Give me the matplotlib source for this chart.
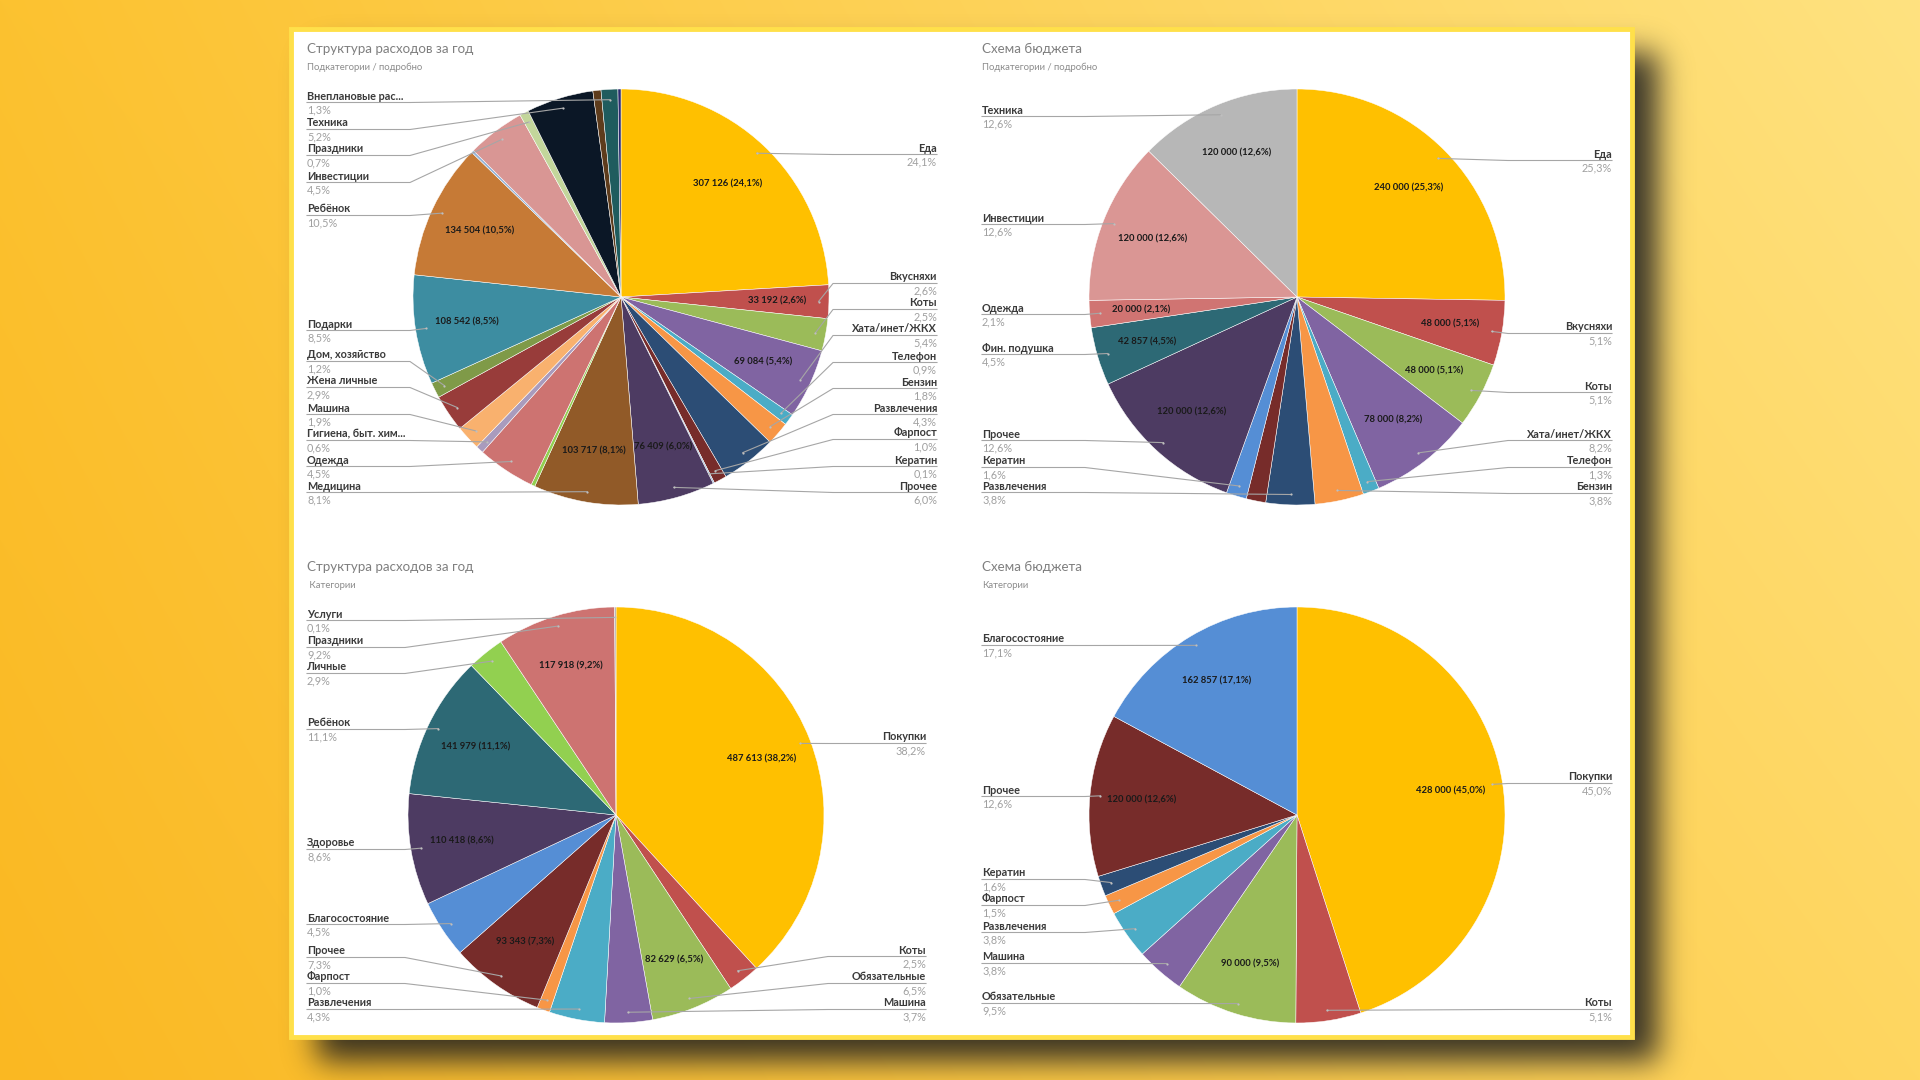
import math
import numpy as np
import matplotlib.pyplot as plt
from matplotlib.patches import Rectangle

plt.rcParams['font.family'] = ['Lato', 'DejaVu Sans']

W, H = 1920, 1080

# ---- data -------------------------------------------------------------
# top-left: Структура расходов за год / подкатегории
tl_labels = ['Еда', 'Вкусняхи', 'Коты', 'Хата/инет/ЖКХ', 'Телефон', 'Бензин',
             'Развлечения', 'Фарпост', 'Кератин', 'Прочее', 'Медицина', '',
             'Одежда', 'Гигиена, быт. хим...', 'Машина', 'Жена личные',
             'Дом, хозяйство', 'Подарки', 'Ребёнок', ' ', 'Инвестиции',
             'Праздники', 'Техника', '  ', 'Внеплановые рас...', '   ']
tl_values = [307126, 33192, 32000, 69084, 11500, 23000, 54900, 12800, 1300,
             76409, 103717, 3800, 57400, 7700, 24300, 37000, 15300, 108542,
             134504, 2500, 57400, 8900, 66400, 8000, 16600, 3000]
tl_colors = ['#FFC000', '#C0504D', '#9BBB59', '#8064A2', '#4BACC6', '#F79646',
             '#2C4D75', '#772C2A', '#95B3D7', '#4D3B62', '#915A28', '#92D050',
             '#CD7371', '#A99BBD', '#F9B16E', '#983C3A', '#7F9A48', '#3D8DA1',
             '#C67A36', '#95B3D7', '#D99694', '#C3D69B', '#0B1726', '#5E3C1C',
             '#1F5C5E', '#2A2A6E']
tl_inner = ['Еда', 'Вкусняхи', 'Хата/инет/ЖКХ', 'Прочее', 'Медицина',
            'Подарки', 'Ребёнок']

# top-right: Схема бюджета / подкатегории
tr_labels = ['Еда', 'Вкусняхи', 'Коты', 'Хата/инет/ЖКХ', 'Телефон', 'Бензин',
             'Развлечения', 'Фарпост', 'Кератин', 'Прочее', 'Фин. подушка',
             'Одежда', 'Инвестиции', 'Техника']
tr_values = [240000, 48000, 48000, 78000, 12000, 36000, 36000, 14400, 15000,
             120000, 42857, 20000, 120000, 120000]
tr_colors = ['#FFC000', '#C0504D', '#9BBB59', '#8064A2', '#4BACC6', '#F79646',
             '#2C4D75', '#772C2A', '#558ED5', '#4D3B62', '#2D6975', '#D07472',
             '#DA9694', '#B7B7B7']
tr_inner = ['Еда', 'Вкусняхи', 'Коты', 'Хата/инет/ЖКХ', 'Прочее',
            'Фин. подушка', 'Одежда', 'Инвестиции', 'Техника']

# bottom-left: Структура расходов за год / категории
bl_labels = ['Покупки', 'Коты', 'Обязательные', 'Машина', 'Развлечения',
             'Фарпост', 'Прочее', 'Благосостояние', 'Здоровье', 'Ребёнок',
             'Личные', 'Праздники', 'Услуги']
bl_values = [487613, 32000, 82629, 47300, 54900, 12800, 93343, 57400, 110418,
             141979, 37000, 117918, 1300]
bl_colors = ['#FFC000', '#C0504D', '#9BBB59', '#8064A2', '#4BACC6', '#F79646',
             '#772C2A', '#558ED5', '#4D3B62', '#2D6975', '#92D050', '#CD7371',
             '#A5A5A5']
bl_inner = ['Покупки', 'Обязательные', 'Прочее', 'Здоровье', 'Ребёнок',
            'Праздники']

# bottom-right: Схема бюджета / категории
br_labels = ['Покупки', 'Коты', 'Обязательные', 'Машина', 'Развлечения',
             'Фарпост', 'Кератин', 'Прочее', 'Благосостояние']
br_values = [428000, 48000, 90000, 36000, 36000, 14400, 15000, 120000, 162857]
br_colors = ['#FFC000', '#C0504D', '#9BBB59', '#8064A2', '#4BACC6', '#F79646',
             '#2C4D75', '#772C2A', '#558ED5']
br_inner = ['Покупки', 'Обязательные', 'Прочее', 'Благосостояние']

# ---- layout (pixels) ---------------------------------------------------
R = 208
charts = [
    dict(title='Структура расходов за год', sub='Подкатегории / подробно',
         tx=307, ty=49, cx=621, cy=297, lx=307, rx=937, kl=410, kr=833,
         labels=tl_labels, values=tl_values, colors=tl_colors, inner=tl_inner,
         pos={'Внеплановые рас...': ('L', 96), 'Техника': ('L', 123),
              'Праздники': ('L', 149), 'Инвестиции': ('L', 176),
              'Ребёнок': ('L', 209), 'Подарки': ('L', 324),
              'Дом, хозяйство': ('L', 355), 'Жена личные': ('L', 381),
              'Машина': ('L', 408), 'Гигиена, быт. хим...': ('L', 434),
              'Одежда': ('L', 460), 'Медицина': ('L', 486),
              'Еда': ('R', 148), 'Вкусняхи': ('R', 277), 'Коты': ('R', 303),
              'Хата/инет/ЖКХ': ('R', 329), 'Телефон': ('R', 356),
              'Бензин': ('R', 382), 'Развлечения': ('R', 408),
              'Фарпост': ('R', 433), 'Кератин': ('R', 460),
              'Прочее': ('R', 486)}),
    dict(title='Схема бюджета', sub='Подкатегории / подробно',
         tx=982, ty=49, cx=1297, cy=297, lx=982, rx=1612, kl=1085, kr=1508,
         labels=tr_labels, values=tr_values, colors=tr_colors, inner=tr_inner,
         pos={'Техника': ('L', 110), 'Инвестиции': ('L', 218),
              'Одежда': ('L', 308), 'Фин. подушка': ('L', 348),
              'Прочее': ('L', 434), 'Кератин': ('L', 461),
              'Развлечения': ('L', 486), 'Еда': ('R', 154),
              'Вкусняхи': ('R', 327), 'Коты': ('R', 386),
              'Хата/инет/ЖКХ': ('R', 434), 'Телефон': ('R', 461),
              'Бензин': ('R', 487)}),
    dict(title='Структура расходов за год', sub=' Категории',
         tx=307, ty=567, cx=616, cy=815, lx=307, rx=926, kl=405, kr=828,
         labels=bl_labels, values=bl_values, colors=bl_colors, inner=bl_inner,
         pos={'Услуги': ('L', 614), 'Праздники': ('L', 641),
              'Личные': ('L', 667), 'Ребёнок': ('L', 723),
              'Здоровье': ('L', 843), 'Благосостояние': ('L', 918),
              'Прочее': ('L', 951), 'Фарпост': ('L', 977),
              'Развлечения': ('L', 1003), 'Покупки': ('R', 737),
              'Коты': ('R', 950), 'Обязательные': ('R', 977),
              'Машина': ('R', 1003)}),
    dict(title='Схема бюджета', sub='Категории',
         tx=982, ty=567, cx=1297, cy=815, lx=982, rx=1612, kl=1085, kr=1508,
         labels=br_labels, values=br_values, colors=br_colors, inner=br_inner,
         pos={'Благосостояние': ('L', 639), 'Прочее': ('L', 790),
              'Кератин': ('L', 873), 'Фарпост': ('L', 899),
              'Развлечения': ('L', 926), 'Машина': ('L', 957),
              'Обязательные': ('L', 997), 'Покупки': ('R', 777),
              'Коты': ('R', 1003)}),
]

fig = plt.figure(figsize=(W / 100, H / 100), dpi=100)

# ---- background, shadow and panel --------------------------------------
bg = fig.add_axes([0, 0, 1, 1])
bg.set_xlim(0, W)
bg.set_ylim(H, 0)
bg.axis('off')

u = np.linspace(0, 1, W)[None, :, None]
v = np.linspace(0, 1, H)[:, None, None]
c_tl = np.array([252, 194, 48]) / 255
c_tr = np.array([255, 226, 128]) / 255
c_bl = np.array([250, 184, 34]) / 255
c_br = np.array([255, 214, 96]) / 255
grad = (c_tl * (1 - u) * (1 - v) + c_tr * u * (1 - v)
        + c_bl * (1 - u) * v + c_br * u * v)
bg.imshow(grad, extent=(0, W, H, 0), aspect='auto', zorder=0)

px0, py0, px1, py1 = 291, 29, 1632, 1037
sdx, sdy, sig = 26, 24, 15.0
erf = np.vectorize(math.erf)
xs = np.arange(W) + 0.5
ys = np.arange(H) + 0.5
fx = 0.5 * (erf((xs - px0 - sdx) / (sig * 1.414)) - erf((xs - px1 - sdx) / (sig * 1.414)))
fy = 0.5 * (erf((ys - py0 - sdy) / (sig * 1.414)) - erf((ys - py1 - sdy) / (sig * 1.414)))
shadow = np.zeros((H, W, 4))
shadow[..., :3] = 0.12
shadow[..., 3] = 0.88 * fy[:, None] * fx[None, :]
bg.imshow(shadow, extent=(0, W, H, 0), aspect='auto', zorder=1)

bg.add_patch(Rectangle((px0, py0), px1 - px0, py1 - py0, facecolor='white',
                       edgecolor='#FFE04A', linewidth=3.5, zorder=2))

# ---- pies --------------------------------------------------------------
wedge_sets = []
for ch in charts:
    cx, cy = ch['cx'], ch['cy']
    ax = fig.add_axes([(cx - R) / W, 1 - (cy + R) / H, 2 * R / W, 2 * R / H])
    wedges, _ = ax.pie(ch['values'], colors=ch['colors'], startangle=90,
                       counterclock=False, radius=1,
                       wedgeprops=dict(edgecolor='white', linewidth=0.35))
    ax.set_xlim(-1, 1)
    ax.set_ylim(-1, 1)
    ax.axis('off')
    wedge_sets.append(wedges)

# ---- overlay: titles, labels, leader lines -----------------------------
ov = fig.add_axes([0, 0, 1, 1])
ov.set_xlim(0, W)
ov.set_ylim(H, 0)
ov.axis('off')
ov.patch.set_alpha(0)

line_c = '#A6A6A6'
name_c = '#3A3A3A'
pct_c = '#A0A0A0'
lab_fs = 7.8


def fmt_num(x):
    return f'{x:,}'.replace(',', ' ')


for ch, wedges in zip(charts, wedge_sets):
    cx, cy = ch['cx'], ch['cy']
    total = sum(ch['values'])
    ov.text(ch['tx'], ch['ty'], ch['title'], fontsize=9.6, color='#7F7F7F',
            ha='left', va='center')
    ov.text(ch['tx'], ch['ty'] + 18, ch['sub'], fontsize=6.8, color='#8C8C8C',
            ha='left', va='center')
    for lab, val, w in zip(ch['labels'], ch['values'], wedges):
        mid = math.radians((w.theta1 + w.theta2) / 2)
        pct = f'{100 * val / total:.1f}%'.replace('.', ',')
        if lab in ch['inner']:
            ix = cx + 0.75 * R * math.cos(mid)
            iy = cy - 0.75 * R * math.sin(mid)
            ov.text(ix, iy, f'{fmt_num(val)} ({pct})', fontsize=6.8,
                    fontweight='bold', color='#1A1A1A', ha='center', va='center')
        if lab not in ch['pos']:
            continue
        side, ny = ch['pos'][lab]
        ax_ = cx + 0.95 * R * math.cos(mid)
        ay_ = cy - 0.95 * R * math.sin(mid)
        ly = ny + 6.5
        if side == 'L':
            xs_ = [ch['lx'], ch['kl'], ax_]
            ov.text(ch['lx'], ny, lab, fontsize=lab_fs, fontweight='bold',
                    color=name_c, ha='left', va='center')
            ov.text(ch['lx'], ny + 14, pct, fontsize=lab_fs, color=pct_c,
                    ha='left', va='center')
        else:
            xs_ = [ch['rx'], ch['kr'], ax_]
            ov.text(ch['rx'], ny, lab, fontsize=lab_fs, fontweight='bold',
                    color=name_c, ha='right', va='center')
            ov.text(ch['rx'], ny + 14, pct, fontsize=lab_fs, color=pct_c,
                    ha='right', va='center')
        ov.plot(xs_, [ly, ly, ay_], color=line_c, linewidth=0.8,
                solid_joinstyle='round')
        ov.plot([ax_], [ay_], marker='o', markersize=1.6, color='#BFBFBF',
                markeredgewidth=0)

fig.savefig('out.png', dpi=100)
